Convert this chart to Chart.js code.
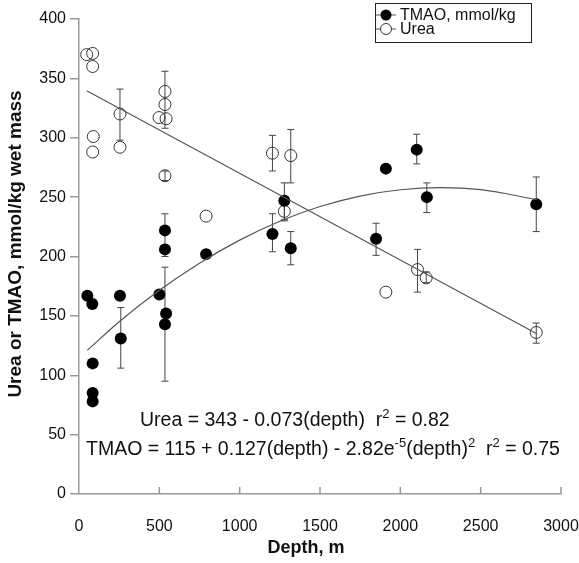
<!DOCTYPE html>
<html>
<head>
<meta charset="utf-8">
<script src="https://cdn.jsdelivr.net/npm/chart.js@4"></script>
<style>
body{margin:0;background:#fff;}
#wrap{position:relative;width:579px;height:563px;}
.eq{position:absolute;font-family:'Liberation Sans',Arial,sans-serif;font-size:19.5px;color:#111;white-space:pre;line-height:22px;}
.eq sup{font-size:13px;vertical-align:8px;line-height:0;}
</style>
</head>
<body>
<div id="wrap">
<canvas id="result-chart" width="579" height="563"></canvas>
<div class="eq" style="left:140px;top:408px">Urea = 343 - 0.073(depth)  r<sup>2</sup> = 0.82</div>
<div class="eq" style="left:86px;top:437px">TMAO = 115 + 0.127(depth) - 2.82e<sup>-5</sup>(depth)<sup>2</sup>  r<sup>2</sup> = 0.75</div>
</div>
<script>
// TMAO points (filled)
var tmaoDepth = [52, 83, 85, 85, 85, 255, 260, 500, 535, 535, 542, 535, 791, 1204, 1278, 1318, 1849, 1910, 2102, 2165, 2846];
var tmaoValue = [167, 160, 110, 85, 78, 167, 131, 168, 222, 206, 152, 143, 202, 219, 247, 207, 215, 274, 290, 250, 244];
var tmaoErrLow = [null, null, null, null, null, null, 106, null, 200, null, null, 95, null, 204, 231, 193, 201, null, 278, 237, 221];
var tmaoErrHigh = [null, null, null, null, null, null, 157, null, 236, null, null, 191, null, 236, 262, 221, 228, null, 303, 262, 267];

// Urea points (open)
var ureaDepth = [48, 85, 85, 255, 89, 85, 255, 535, 535, 498, 542, 535, 791, 1204, 1278, 1318, 1910, 2107, 2161, 2846];
var ureaValue = [370, 371, 360, 320, 301, 288, 292, 339, 328, 317, 316, 268, 234, 287, 238, 285, 170, 189, 182, 136];
var ureaErrLow = [null, null, null, 298, null, null, null, null, 308, null, null, 264, null, 272, 230, 262, null, 170, 178, 127];
var ureaErrHigh = [null, null, null, 341, null, null, null, null, 356, null, null, 272, null, 302, 245, 307, null, 206, 187, 144];

// fit lines
var ureaFitDepth = [48, 2850];
var ureaFitValue = [339.5, 135];
var tmaoFitDepth = [52, 250, 500, 750, 1000, 1250, 1500, 1750, 2000, 2250, 2500, 2850];
var tmaoFitValue = [121, 145, 171.5, 194.4, 213.8, 229.7, 242.1, 250.9, 256.2, 258, 256.3, 247.9];

var legendLabels = ['TMAO, mmol/kg', 'Urea'];
var xTitle = 'Depth, m';
var yTitle = 'Urea or TMAO, mmol/kg wet mass';

function toPoints(xs, ys){
      var pts = [];
      for(var i = 0; i < xs.length; i++){
            pts.push({x: xs[i], y: ys[i]});
      }
      return pts;
}

var fontFam = "'Liberation Sans', Arial, sans-serif";

var errorBars = {
      id: 'errorBars',
      beforeDatasetsDraw: function(chart){
            var ctx = chart.ctx, xs = chart.scales.x, ys = chart.scales.y;
            var sets = [[tmaoDepth, tmaoErrLow, tmaoErrHigh], [ureaDepth, ureaErrLow, ureaErrHigh]];
            ctx.save();
            ctx.strokeStyle = '#444';
            ctx.lineWidth = 1;
            sets.forEach(function(s){
                  for(var i = 0; i < s[0].length; i++){
                        if(s[1][i] == null) continue;
                        var px = xs.getPixelForValue(s[0][i]);
                        var lo = ys.getPixelForValue(s[1][i]);
                        var hi = ys.getPixelForValue(s[2][i]);
                        ctx.beginPath();
                        ctx.moveTo(px, lo); ctx.lineTo(px, hi);
                        ctx.moveTo(px - 3.5, lo); ctx.lineTo(px + 3.5, lo);
                        ctx.moveTo(px - 3.5, hi); ctx.lineTo(px + 3.5, hi);
                        ctx.stroke();
                  }
            });
            ctx.restore();
      }
};

var extras = {
      id: 'extras',
      afterDraw: function(chart){
            var ctx = chart.ctx, xs = chart.scales.x, area = chart.chartArea;
            ctx.save();
            // inward ticks on the depth axis
            ctx.strokeStyle = '#999';
            ctx.lineWidth = 1.5;
            xs.ticks.forEach(function(t){
                  if(t.value == 0) return;
                  var px = xs.getPixelForValue(t.value);
                  ctx.beginPath();
                  ctx.moveTo(px, area.bottom);
                  ctx.lineTo(px, area.bottom - 7);
                  ctx.stroke();
            });
            // axis titles
            ctx.fillStyle = '#111';
            ctx.font = 'bold 18px ' + fontFam;
            ctx.textAlign = 'center';
            ctx.textBaseline = 'middle';
            ctx.fillText(xTitle, 306, 548);
            ctx.save();
            ctx.translate(16, 244);
            ctx.rotate(-Math.PI / 2);
            ctx.font = 'bold 19px ' + fontFam;
            ctx.fillText(yTitle, 0, 0);
            ctx.restore();
            ctx.textAlign = 'left';
            // legend box
            var bx = 375, by = 3, bw = 156, bh = 39;
            ctx.fillStyle = '#fff';
            ctx.fillRect(bx, by, bw, bh);
            ctx.strokeStyle = '#222';
            ctx.lineWidth = 1;
            ctx.strokeRect(bx + 0.5, by + 0.5, bw, bh);
            var rows = [by + 12, by + 26];
            for(var r = 0; r < 2; r++){
                  var cy = rows[r];
                  ctx.strokeStyle = '#555';
                  ctx.beginPath();
                  ctx.moveTo(bx + 1, cy); ctx.lineTo(bx + 21, cy);
                  ctx.stroke();
                  ctx.beginPath();
                  ctx.arc(bx + 11, cy, 5.5, 0, Math.PI * 2);
                  if(r == 0){
                        ctx.fillStyle = '#000';
                        ctx.fill();
                  } else {
                        ctx.fillStyle = '#fff';
                        ctx.fill();
                        ctx.strokeStyle = '#333';
                        ctx.stroke();
                  }
                  ctx.fillStyle = '#111';
                  ctx.font = '16px ' + fontFam;
                  ctx.textBaseline = 'middle';
                  ctx.fillText(legendLabels[r], bx + 25, cy + 1);
            }
            ctx.restore();
      }
};

var ctx = document.getElementById('result-chart').getContext('2d');
var chart = new Chart(ctx, {
      type: 'scatter',
      data: {
            datasets: [{
                  label: 'TMAO fit',
                  data: toPoints(tmaoFitDepth, tmaoFitValue),
                  showLine: true,
                  pointRadius: 0,
                  borderColor: '#555',
                  borderWidth: 1.2,
                  tension: 0.4,
                  cubicInterpolationMode: 'monotone'
            }, {
                  label: 'Urea fit',
                  data: toPoints(ureaFitDepth, ureaFitValue),
                  showLine: true,
                  pointRadius: 0,
                  borderColor: '#555',
                  borderWidth: 1.2
            }, {
                  label: legendLabels[0],
                  data: toPoints(tmaoDepth, tmaoValue),
                  pointRadius: 6,
                  backgroundColor: '#000',
                  borderColor: '#000',
                  borderWidth: 0
            }, {
                  label: legendLabels[1],
                  data: toPoints(ureaDepth, ureaValue),
                  pointRadius: 6,
                  backgroundColor: 'rgba(255,255,255,0)',
                  borderColor: '#333',
                  borderWidth: 1
            }]
      },
      options: {
            responsive: false,
            animation: false,
            layout: {padding: {top: 19, right: 0, left: 0, bottom: 0}},
            plugins: {legend: {display: false}, tooltip: {enabled: false}},
            scales: {
                  x: {
                        type: 'linear',
                        min: 0, max: 3000,
                        ticks: {stepSize: 500, color: '#111', font: {size: 16, family: fontFam}, padding: 15, maxRotation: 0,
                              callback: function(v){ return String(v); }},
                        grid: {display: false},
                        border: {color: '#999', width: 1.5},
                        afterFit: function(s){ s.height = 69; s.paddingLeft = 0; s.paddingRight = 18; }
                  },
                  y: {
                        min: 0, max: 400,
                        ticks: {stepSize: 50, color: '#111', font: {size: 16, family: fontFam}, padding: 4},
                        grid: {drawOnChartArea: false, tickLength: 9, color: '#999', lineWidth: 1.5},
                        border: {color: '#999', width: 1.5},
                        afterFit: function(s){ s.width = 79; }
                  }
            }
      },
      plugins: [errorBars, extras]
});
</script>
</body>
</html>
